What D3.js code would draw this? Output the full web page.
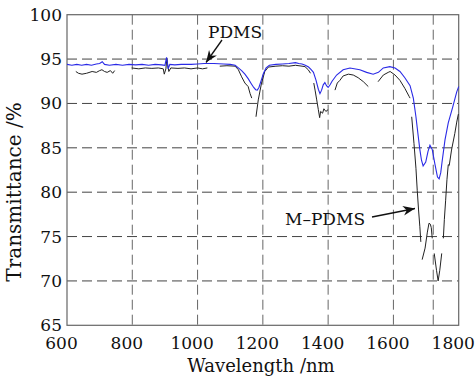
<!DOCTYPE html>
<html>
<head>
<meta charset="utf-8">
<script src="https://cdn.jsdelivr.net/npm/d3@7"></script>
<style>
  body { margin: 0; background: #fff; }
  svg text { font-family: "DejaVu Serif", "Liberation Serif", serif; fill: #111; }
</style>
</head>
<body>
<div id="chart"></div>
<script>
// PDMS (blue) spectrum
const pdmsWl = [600, 615, 630, 645, 660, 675, 690, 700, 708, 715, 730, 750, 770, 790, 810, 830, 850, 870, 890, 900, 905, 910, 915, 930, 950, 980, 1000, 1020, 1050, 1080, 1100, 1115, 1125, 1135, 1145, 1155, 1165, 1172, 1178, 1183, 1188, 1195, 1202, 1210, 1220, 1240, 1260, 1280, 1300, 1310, 1320, 1330, 1340, 1348, 1355, 1363, 1370, 1375, 1380, 1385, 1390, 1395, 1400, 1406, 1412, 1426, 1446, 1467, 1497, 1518, 1538, 1554, 1569, 1589, 1605, 1620, 1635, 1651, 1661, 1669, 1676, 1681, 1686, 1691, 1699, 1706, 1712, 1719, 1727, 1735, 1740, 1745, 1749, 1758, 1768, 1781, 1794, 1800];
const pdmsT = [94.4, 94.3, 94.4, 94.3, 94.4, 94.3, 94.45, 94.5, 94.7, 94.4, 94.3, 94.4, 94.3, 94.4, 94.35, 94.4, 94.3, 94.4, 94.35, 94.3, 95.2, 93.9, 94.4, 94.35, 94.4, 94.4, 94.45, 94.5, 94.5, 94.45, 94.4, 94.3, 94.0, 93.7, 93.3, 92.8, 92.2, 91.8, 91.55, 91.5, 91.8, 92.6, 93.4, 94.0, 94.3, 94.4, 94.45, 94.5, 94.6, 94.5, 94.45, 94.3, 94.1, 93.8, 93.5, 92.6, 91.6, 91.1, 91.5, 92.1, 92.35, 92.0, 91.8, 92.1, 92.5, 93.2, 93.8, 94.0, 93.8, 93.5, 93.3, 93.5, 94.0, 94.15, 94.0, 93.6, 92.9, 92.0, 90.6, 88.5, 86.3, 84.8, 83.6, 82.95, 83.4, 84.6, 85.3, 84.8, 83.2, 81.7, 81.5, 82.2, 83.4, 85.9, 87.8, 89.5, 91.3, 91.9];

// M-PDMS (black) spectrum, null = gap in the trace
const mpdmsWl = [627, 635, 646, 660, 677, 690, 700, 707, 715, 723, 733, 740, 746, 770,
  798, 820, 840, 860, 880, 895, 898, 903, 906, 909, 912, 918, 940, 960, 980, 1000, 1015, 1030, 1050,
  1068, 1090, 1115, 1125, 1135, 1145, 1155, 1161, 1166, 1172,
  1179, 1186, 1196, 1206, 1217, 1240, 1260, 1280, 1300, 1320, 1329, 1339, 1346, 1351,
  1356, 1360, 1365, 1370, 1374, 1377, 1383, 1387, 1393, 1400, 1410,
  1421, 1428, 1436, 1446, 1462, 1477, 1492, 1508, 1523, 1540,
  1553, 1569, 1584, 1590, 1605, 1620, 1635, 1648, 1651, 1653,
  1656, 1663, 1669, 1673, 1677, 1681, 1684, 1686,
  1688, 1697, 1704, 1709, 1713, 1716, 1719, 1722,
  1725, 1732, 1737, 1742, 1748, 1750,
  1753, 1756, 1760, 1764, 1768, 1771, 1778, 1788, 1794, 1799];
const mpdmsT = [93.6, 93.4, 93.3, 93.4, 93.6, 93.5, 93.7, 93.8, 93.6, 93.5, 93.7, 93.4, 93.7, null,
  94.0, 93.9, 94.0, 93.95, 94.0, 93.9, 93.3, 93.9, 95.1, 94.2, 93.6, 94.0, 93.95, 94.0, 93.9, 94.0, 93.9, 94.0, null,
  94.2, 94.25, 94.2, 93.8, 93.0, 92.3, 91.9, 91.1, 90.6, null,
  88.5, 90.4, 92.3, 93.6, 94.1, 94.2, 94.25, 94.2, 94.3, 94.2, 94.15, 93.8, 93.4, null,
  92.3, 91.5, 90.4, 89.3, 88.4, 89.1, 88.9, 89.4, 89.1, 89.3, null,
  91.5, 92.3, 92.6, 93.1, 93.3, 93.2, 92.9, 92.45, 91.9, null,
  92.45, 93.2, 93.5, 93.6, 93.2, 92.6, 91.7, 90.8, 90.6, null,
  88.5, 85.5, 82.7, 80.2, 78.0, 76.1, 74.4, null,
  72.4, 73.7, 75.5, 76.5, 76.4, 76.0, 74.8, null,
  73.1, 71.2, 70.0, 71.2, 73.1, null,
  74.8, 76.9, 79.1, 81.4, 83.1, 83.0, 84.75, 86.6, 87.9, 88.8];

const xTicks = [600, 800, 1000, 1200, 1400, 1600, 1800];
const yTicks = [65, 70, 75, 80, 85, 90, 95, 100];
const xGrid = [800, 1000, 1200, 1400, 1600, 1722];
const yGrid = [70, 75, 80, 85, 90, 95];

const width = 475;
const height = 382;
const margin = { left: 67, right: 16.3, top: 14.7, bottom: 56.7 };

const svg = d3.select("#chart").append("svg").attr("width", width).attr("height", height);

const x = d3.scaleLinear().domain([600, 1800]).range([margin.left, width - margin.right]);
const y = d3.scaleLinear().domain([65, 100]).range([height - margin.bottom, margin.top]);

svg.append("defs").append("marker")
  .attr("id", "arrow")
  .attr("viewBox", "0 0 10 10")
  .attr("refX", 10).attr("refY", 5)
  .attr("markerWidth", 12).attr("markerHeight", 12)
  .attr("markerUnits", "userSpaceOnUse")
  .attr("orient", "auto")
  .append("path").attr("d", "M0,1 L10,5 L0,9 L3,5 Z").attr("fill", "#111");

// grid
svg.selectAll(".hgrid").data(yGrid).enter().append("line")
  .attr("x1", x(600)).attr("x2", x(1800))
  .attr("y1", d => y(d)).attr("y2", d => y(d))
  .attr("stroke", "#444").attr("stroke-width", 1).attr("stroke-dasharray", "10,5");

svg.selectAll(".vgrid").data(xGrid).enter().append("line")
  .attr("x1", d => x(d)).attr("x2", d => x(d))
  .attr("y1", y(100)).attr("y2", y(65))
  .attr("stroke", "#666").attr("stroke-width", 1).attr("stroke-dasharray", "10,5");

// frame
svg.append("rect")
  .attr("x", x(600)).attr("y", y(100))
  .attr("width", x(1800) - x(600)).attr("height", y(65) - y(100))
  .attr("fill", "none").attr("stroke", "#666").attr("stroke-width", 1.2);

// axes (labels only)
const xAxis = svg.append("g")
  .attr("transform", `translate(0, ${y(65)})`)
  .call(d3.axisBottom(x).tickValues(xTicks).tickFormat(d3.format("d")).tickSize(0).tickPadding(12));
xAxis.select(".domain").remove();
xAxis.selectAll("text").attr("dx", -6).style("font-size", "17px")
  .style("font-family", "DejaVu Serif, serif").attr("fill", "#111");

const yAxis = svg.append("g")
  .attr("transform", `translate(${x(600)}, 0)`)
  .call(d3.axisLeft(y).tickValues(yTicks).tickSize(0).tickPadding(5));
yAxis.select(".domain").remove();
yAxis.selectAll("text").style("font-size", "17px")
  .style("font-family", "DejaVu Serif, serif").attr("fill", "#111");

// spectra
const mpdms = mpdmsWl.map((w, i) => ({ w, t: mpdmsT[i] }));
const pdms = pdmsWl.map((w, i) => ({ w, t: pdmsT[i] }));

const line = d3.line().defined(d => d.t !== null).x(d => x(d.w)).y(d => y(d.t));

svg.append("path").datum(mpdms)
  .attr("d", line).attr("fill", "none").attr("stroke", "#222").attr("stroke-width", 1);

svg.append("path").datum(pdms)
  .attr("d", line).attr("fill", "none").attr("stroke", "#2a2ae6").attr("stroke-width", 1.1);

// annotations
svg.append("text").attr("x", 208).attr("y", 38).style("font-size", "17px").text("PDMS");
svg.append("line")
  .attr("x1", 222).attr("y1", 40).attr("x2", 206).attr("y2", 62.5)
  .attr("stroke", "#111").attr("stroke-width", 1.3).attr("marker-end", "url(#arrow)");

svg.append("text").attr("x", 285).attr("y", 225).style("font-size", "17px").text("M–PDMS");
svg.append("line")
  .attr("x1", 372).attr("y1", 217).attr("x2", 415).attr("y2", 208.5)
  .attr("stroke", "#111").attr("stroke-width", 1.3).attr("marker-end", "url(#arrow)");

// axis titles
svg.append("text")
  .attr("x", 261).attr("y", 372)
  .attr("text-anchor", "middle").style("font-size", "18px")
  .text("Wavelength /nm");

svg.append("text")
  .attr("transform", "translate(21, 192) rotate(-90)")
  .attr("text-anchor", "middle").style("font-size", "20px")
  .text("Transmittance /%");
</script>
</body>
</html>
